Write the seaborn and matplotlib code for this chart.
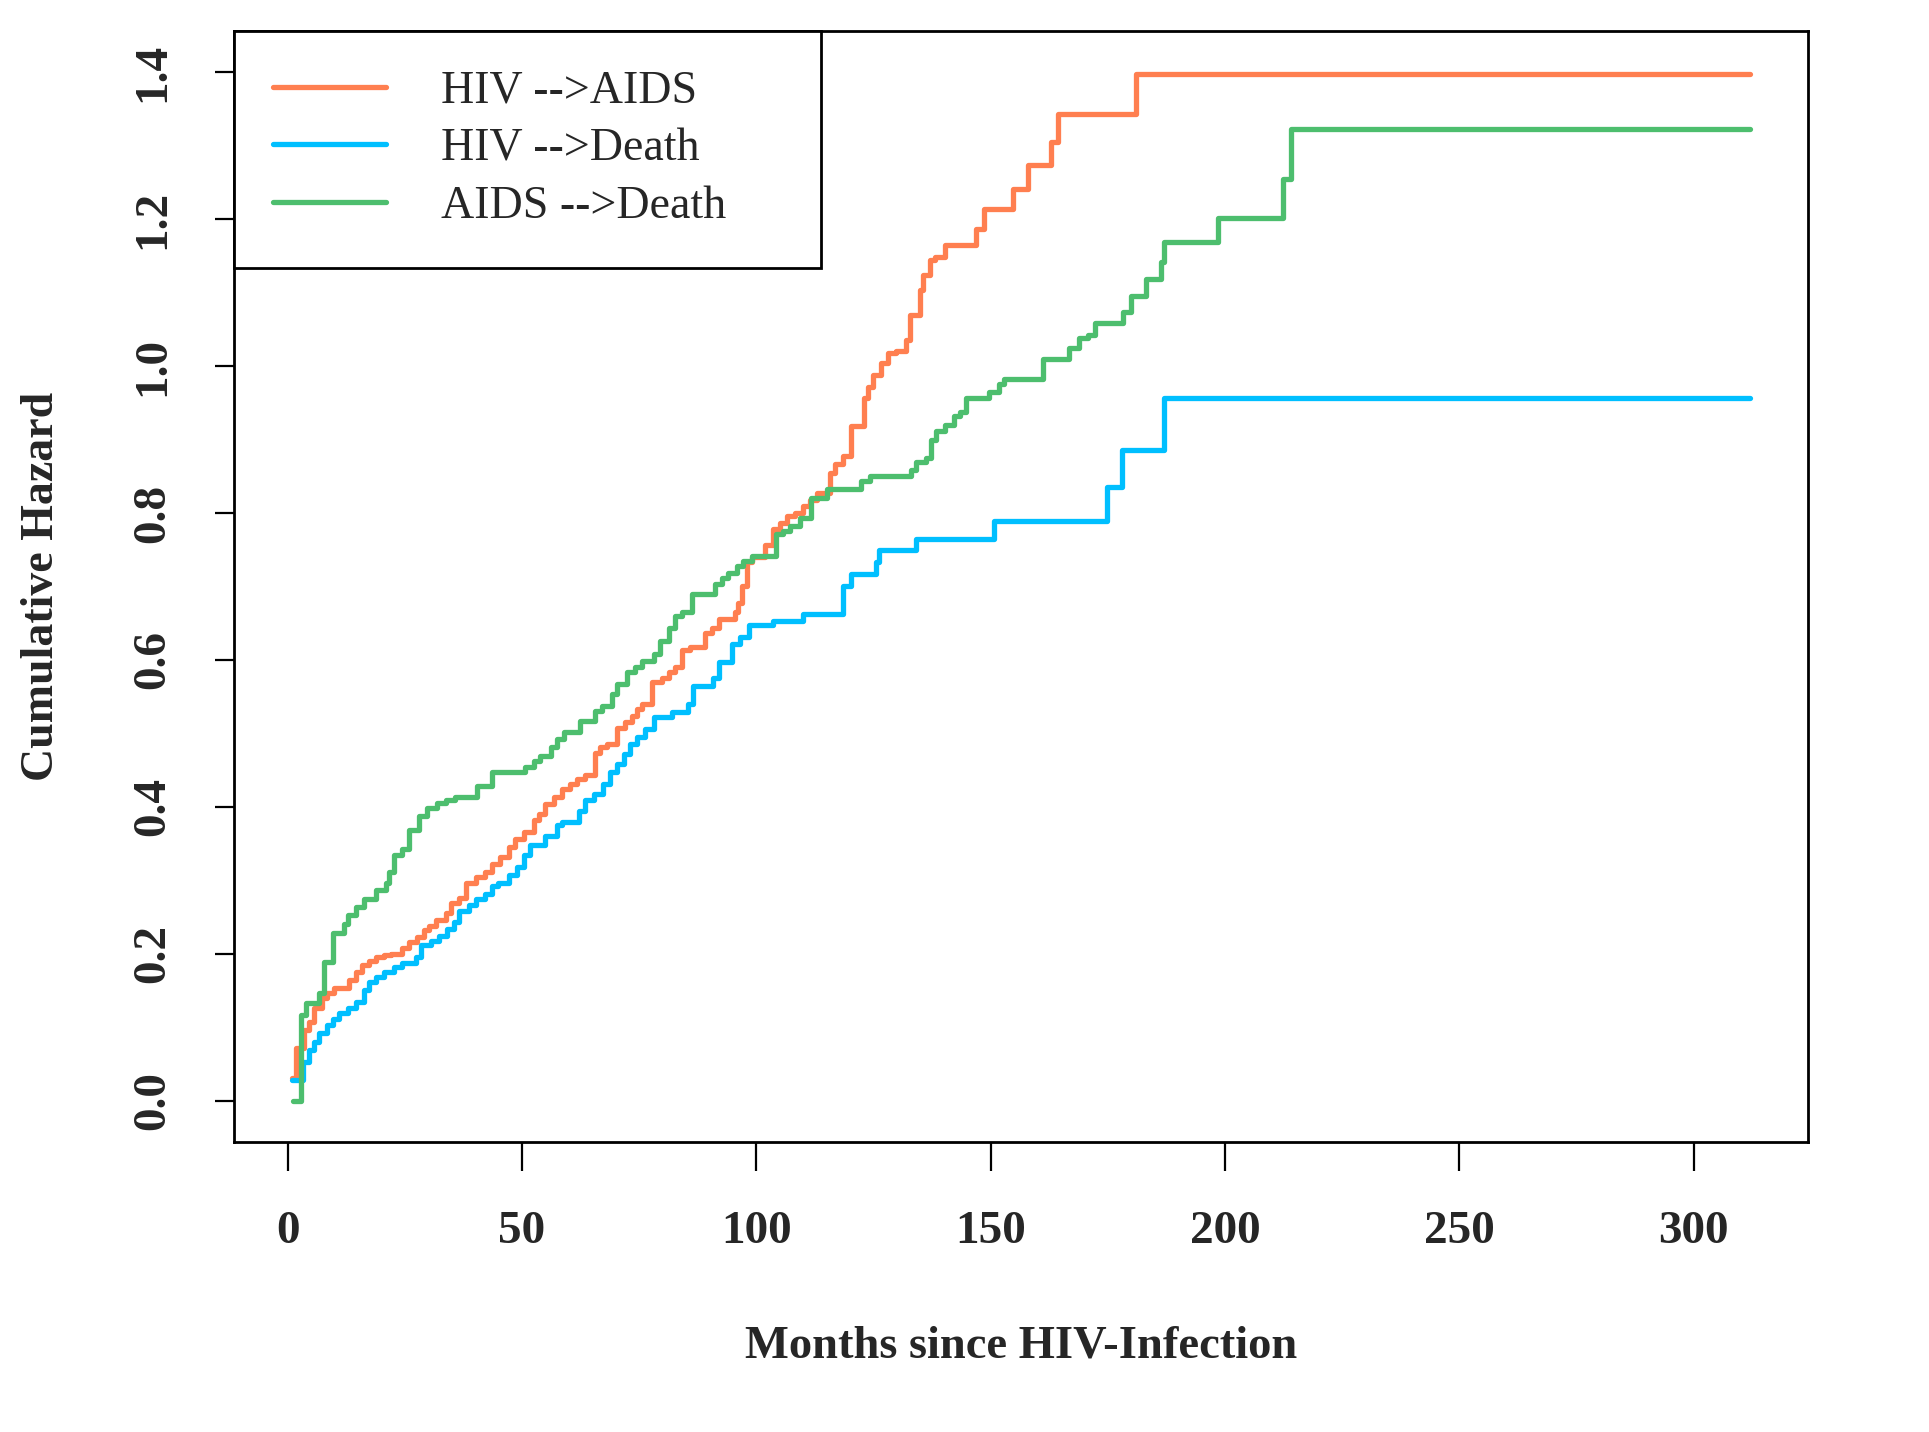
import numpy as np
import pandas as pd
import matplotlib
matplotlib.use("Agg")
import matplotlib.pyplot as plt
import seaborn as sns

# ---- data ----
series_names = ["HIV -->AIDS", "HIV -->Death", "AIDS -->Death"]
series_colors = ["#FF7F50", "#00BFFF", "#4DBE6E"]

hiv_aids_t = [1.0, 1.8, 3.6, 4.6, 5.7, 7.4, 8.5, 9.9, 13.1, 14.5, 15.9, 17.4, 18.8, 20.6, 22.0,
              24.5, 25.9, 27.7, 29.1, 30.2, 31.6, 33.7, 34.8, 36.5, 38.0, 40.1, 42.2, 43.6, 45.4,
              47.2, 48.6, 50.4, 52.5, 53.6, 55.0, 56.8, 58.5, 60.3, 61.7, 63.5, 65.7, 66.7, 68.1,
              70.3, 72.1, 73.5, 74.6, 75.6, 77.8, 79.9, 81.3, 82.7, 84.1, 85.9, 89.1, 90.5, 92.0,
              95.5, 96.2, 96.9, 98.0, 99.0, 101.9, 103.6, 105.0, 106.5, 108.2, 110.0, 111.4, 113.0,
              115.7, 116.8, 118.5, 120.3, 123.1, 123.9, 124.9, 126.7, 128.1, 129.9, 132.0, 132.8,
              134.9, 135.6, 137.0, 138.1, 140.2, 146.9, 148.7, 154.7, 157.9, 162.9, 164.3, 181.0, 312.0]
hiv_aids_h = [0.031, 0.072, 0.096, 0.107, 0.126, 0.140, 0.147, 0.153, 0.164, 0.175, 0.185, 0.191, 0.196, 0.198, 0.200,
              0.208, 0.216, 0.223, 0.232, 0.238, 0.246, 0.255, 0.269, 0.276, 0.296, 0.305, 0.311, 0.323, 0.332,
              0.345, 0.357, 0.366, 0.382, 0.391, 0.404, 0.413, 0.425, 0.431, 0.438, 0.443, 0.474, 0.481, 0.485,
              0.508, 0.515, 0.524, 0.533, 0.540, 0.570, 0.576, 0.583, 0.591, 0.613, 0.617, 0.637, 0.644, 0.656,
              0.665, 0.678, 0.701, 0.733, 0.740, 0.757, 0.778, 0.787, 0.796, 0.800, 0.809, 0.818, 0.827,
              0.855, 0.866, 0.877, 0.918, 0.956, 0.972, 0.988, 1.004, 1.018, 1.020, 1.036, 1.070,
              1.104, 1.124, 1.144, 1.149, 1.165, 1.187, 1.214, 1.241, 1.273, 1.305, 1.343, 1.398, 1.398]

hiv_death_t = [1.0, 3.2, 4.6, 5.7, 6.7, 8.5, 9.6, 11.0, 12.8, 14.5, 16.3, 17.4, 18.8, 20.6, 22.7, 24.5,
               27.4, 28.5, 30.6, 32.4, 34.1, 35.6, 36.5, 38.7, 40.1, 42.2, 43.6, 45.0, 47.2, 49.0, 50.4,
               51.8, 55.0, 57.5, 58.5, 62.1, 63.5, 65.3, 67.4, 68.8, 70.3, 71.7, 73.1, 74.6, 76.3, 78.1,
               82.0, 85.5, 86.6, 90.8, 92.0, 94.8, 96.6, 98.4, 103.6, 110.0, 118.5, 120.3, 125.6, 126.3,
               134.1, 150.8, 174.9, 178.1, 187.0, 312.0]
hiv_death_h = [0.029, 0.053, 0.069, 0.080, 0.092, 0.103, 0.112, 0.119, 0.126, 0.135, 0.151, 0.162, 0.168, 0.175, 0.182, 0.187,
               0.196, 0.212, 0.217, 0.225, 0.234, 0.243, 0.259, 0.266, 0.275, 0.282, 0.293, 0.297, 0.307, 0.318, 0.334,
               0.348, 0.361, 0.375, 0.379, 0.395, 0.409, 0.418, 0.431, 0.447, 0.458, 0.472, 0.485, 0.495, 0.506, 0.522,
               0.529, 0.540, 0.565, 0.575, 0.597, 0.622, 0.631, 0.647, 0.653, 0.662, 0.701, 0.717, 0.733, 0.750,
               0.764, 0.789, 0.836, 0.886, 0.956, 0.956]

aids_death_t = [1.1, 2.8, 3.9, 6.7, 7.8, 9.6, 12.1, 12.8, 14.5, 16.3, 18.8, 20.9, 21.6, 22.7, 24.5, 25.9,
                28.0, 29.8, 31.9, 33.7, 35.8, 40.4, 43.6, 50.7, 52.5, 53.9, 56.1, 57.5, 58.9, 62.5, 65.7,
                67.1, 69.2, 70.3, 72.4, 74.2, 75.6, 78.1, 79.5, 81.3, 82.7, 84.1, 86.2, 91.2, 92.6, 94.0,
                95.8, 97.2, 99.0, 104.3, 105.8, 107.2, 109.3, 111.6, 115.2, 122.3, 124.2, 133.1, 134.1,
                136.3, 137.3, 138.4, 140.2, 142.3, 143.4, 144.8, 149.7, 151.8, 152.9, 161.1, 166.8, 168.9,
                170.7, 172.2, 178.2, 180.0, 183.2, 186.4, 187.1, 198.5, 212.3, 214.1, 312.0]
aids_death_h = [0.0, 0.117, 0.133, 0.147, 0.189, 0.228, 0.241, 0.253, 0.264, 0.275, 0.287, 0.296, 0.311, 0.334, 0.343, 0.368,
                0.388, 0.398, 0.405, 0.409, 0.413, 0.429, 0.447, 0.454, 0.463, 0.469, 0.481, 0.493, 0.502, 0.517, 0.531,
                0.538, 0.554, 0.567, 0.583, 0.591, 0.599, 0.608, 0.626, 0.644, 0.660, 0.665, 0.690, 0.703, 0.712, 0.719,
                0.728, 0.735, 0.742, 0.771, 0.776, 0.782, 0.793, 0.821, 0.832, 0.843, 0.850, 0.859, 0.870,
                0.875, 0.900, 0.911, 0.920, 0.932, 0.938, 0.956, 0.965, 0.975, 0.982, 1.009, 1.024, 1.038,
                1.042, 1.058, 1.074, 1.095, 1.119, 1.142, 1.169, 1.201, 1.255, 1.323, 1.323]

x_ticks = [0, 50, 100, 150, 200, 250, 300]
y_ticks = [0.0, 0.2, 0.4, 0.6, 0.8, 1.0, 1.2, 1.4]
x_label = "Months since HIV-Infection"
y_label = "Cumulative Hazard"

# ---- build long table ----
frames = []
for name, t, h in zip(series_names,
                      [hiv_aids_t, hiv_death_t, aids_death_t],
                      [hiv_aids_h, hiv_death_h, aids_death_h]):
    frames.append(pd.DataFrame({"month": t, "hazard": h, "transition": name}))
df = pd.concat(frames, ignore_index=True)

sns.set_theme(style="white")
plt.rcParams["font.family"] = ["Liberation Serif", "DejaVu Serif"]

fig = plt.figure(figsize=(19.29, 14.32), dpi=100)
ax = fig.add_axes([0.1213, 0.2025, 0.8160, 0.7759])

sns.lineplot(data=df, x="month", y="hazard", hue="transition",
             hue_order=series_names, palette=series_colors,
             drawstyle="steps-post", estimator=None, sort=True,
             linewidth=3.8, ax=ax, legend=True)

ax.set_xlim(-11.44, 324.44)
ax.set_ylim(-0.056, 1.456)
ax.set_xticks(x_ticks)
ax.set_xticklabels([str(v) for v in x_ticks])
ax.set_yticks(y_ticks)
ax.set_yticklabels([f"{v:.1f}" for v in y_ticks])

for sp in ax.spines.values():
    sp.set_visible(True)
    sp.set_color("black")
    sp.set_linewidth(2.0)

ax.tick_params(axis="x", direction="out", length=21, width=1.6, color="black",
               pad=29, labelsize=34, bottom=True)
ax.tick_params(axis="y", direction="out", length=14, width=1.6, color="black",
               pad=29, labelsize=34, left=True, labelrotation=90)
for lab in ax.get_xticklabels():
    lab.set_fontweight("bold")
for lab in ax.get_yticklabels():
    lab.set_fontweight("bold")
    lab.set_va("center")

ax.set_xlabel(x_label, fontsize=33.5, fontweight="bold", labelpad=52)
ax.set_ylabel(y_label, fontsize=33, fontweight="bold", labelpad=50)

handles, labels = ax.get_legend_handles_labels()
ax.get_legend().remove()
leg = ax.legend(handles, labels, loc="upper left",
                bbox_to_anchor=(0.0, 0.796, 0.373, 0.204), mode="expand",
                borderaxespad=0.0, fontsize=33, frameon=True, fancybox=False,
                edgecolor="black", framealpha=1.0, handlelength=2.45,
                handletextpad=1.2, borderpad=0.86, labelspacing=0.33)
leg.get_frame().set_linewidth(2.0)
for line in leg.get_lines():
    line.set_linewidth(3.8)

fig.savefig("out.png", dpi=100, facecolor="white")
